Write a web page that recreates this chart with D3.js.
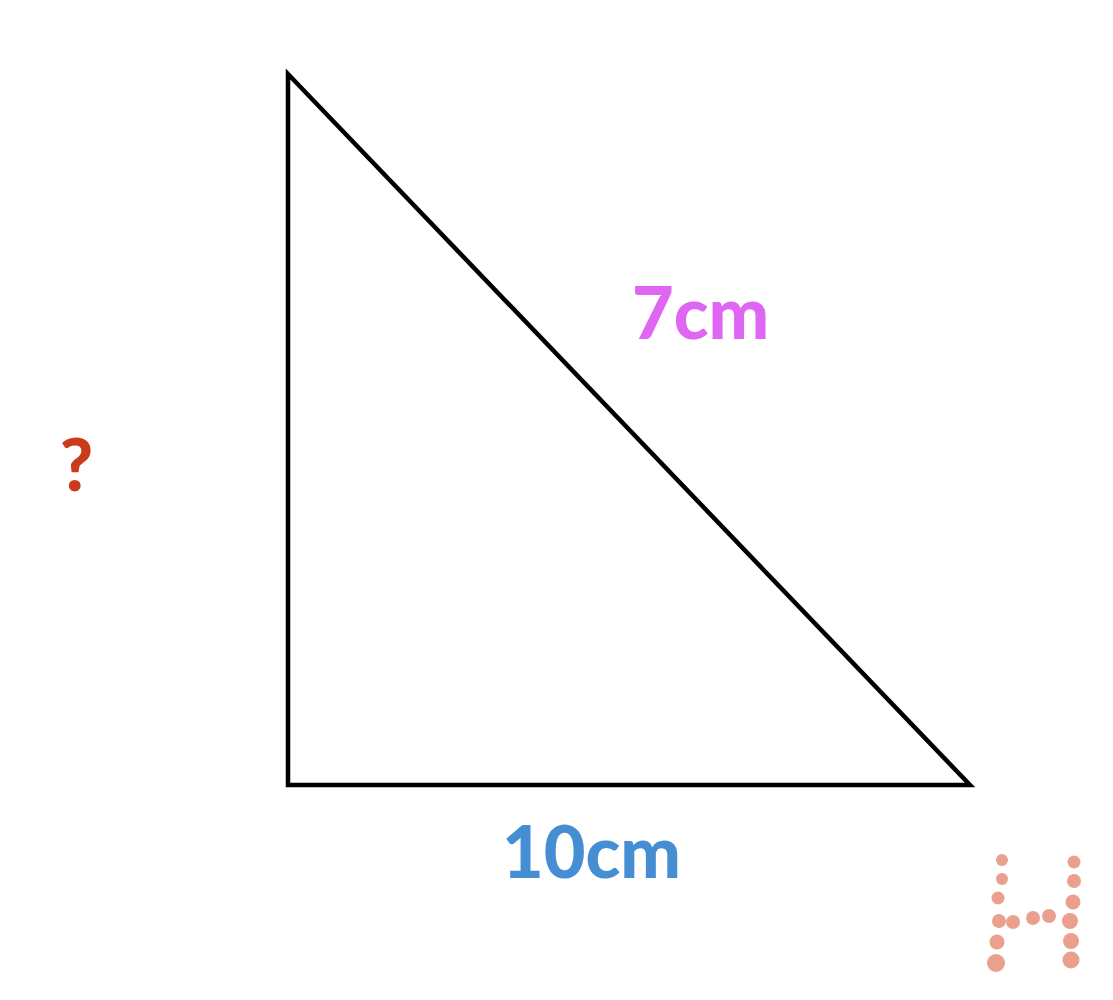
<!DOCTYPE html>
<html><head><meta charset="utf-8">
<script src="https://cdn.jsdelivr.net/npm/d3@7"></script>
<style>body{margin:0;background:#fff}svg{display:block}</style>
</head><body>
<script>
// triangle vertices in diagram units (x: 0..10 base, y: 0..10.43 height)
const vx = [0, 0, 10];
const vy = [10.43, 0, 0];
const labels = ["7cm", "10cm", "?"];
const labelX = [6.05, 4.45, -3.1];
const labelY = [6.95, -0.96, 4.72];
const labelColors = ["#df66f3", "#468ed3", "#cc3a1c"];
// logo dots
const dotX = [1002,1002,998,999,1013,1033,1049,997,996,1074,1074,1073,1070,1071,1071];
const dotY = [860,879,898,921,922,918,916,942,963,862,881,902,921,941,960];
const dotR = [6,6,6.5,7,7,7,7,7.5,9,6.5,7,7.5,8,8,8.5];

const W = 1113, H = 1000;
const x = d3.scaleLinear().domain([0, 10]).range([288, 970]);
const y = d3.scaleLinear().domain([0, 10.43]).range([785, 74]);
const svg = d3.select("body").append("svg").attr("width", W).attr("height", H);

svg.append("path")
  .attr("d", d3.line()(vx.map((v, i) => [x(v), y(vy[i])])) + "Z")
  .attr("fill", "none").attr("stroke", "#000").attr("stroke-width", 4.5)
  .attr("stroke-linejoin", "miter");

svg.selectAll("text.lbl").data(labels).join("text")
  .attr("class", "lbl")
  .attr("x", (d, i) => x(labelX[i])).attr("y", (d, i) => y(labelY[i]))
  .attr("text-anchor", "middle").attr("dominant-baseline", "central")
  .attr("font-family", "Lato, 'Open Sans', sans-serif").attr("font-weight", 900)
  .attr("font-size", (d, i) => i === 2 ? 72 : 72)
  .attr("fill", (d, i) => labelColors[i]).text(d => d);

svg.selectAll("circle").data(dotX).join("circle")
  .attr("cx", d => d).attr("cy", (d, i) => dotY[i]).attr("r", (d, i) => dotR[i])
  .attr("fill", "#eba08d");
</script>
</body></html>
